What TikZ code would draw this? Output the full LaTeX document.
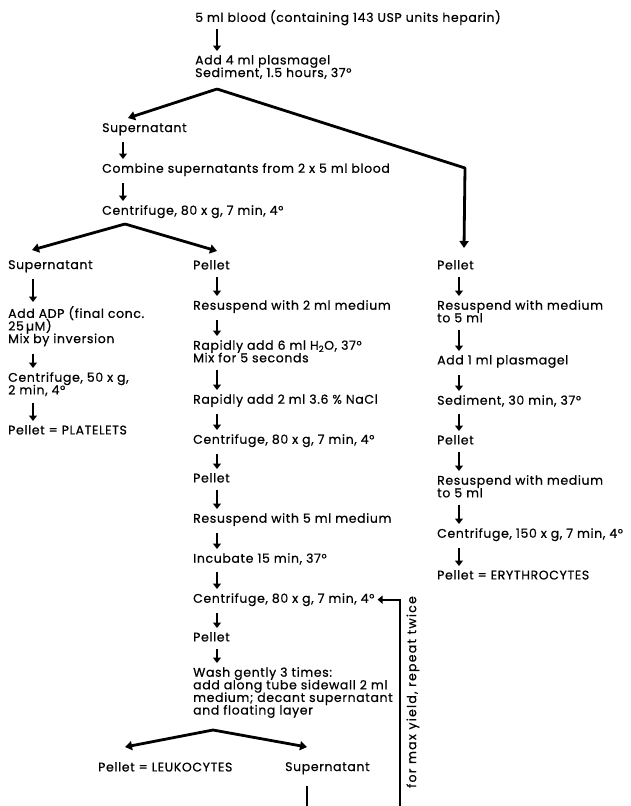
\documentclass[tikz,border=0pt]{standalone}
\usepackage{fontspec}
\setmainfont{Poppins}[FakeBold=0.6, LetterSpace=5]
\usetikzlibrary{arrows.meta, positioning, calc}

\begin{document}
\begin{tikzpicture}[
    x=1pt, y=-1pt,
    txt/.style={anchor=north west, inner sep=0pt, align=left,
                font={\fontsize{12.5}{12.6}\selectfont\lineskiplimit-20pt\relax}},
    flow/.style={line width=2.3pt, -{Triangle[length=5.5pt, width=8pt]},
                 shorten <=7pt, shorten >=4pt},
    branch/.style={line width=2.8pt, -{Triangle[length=7pt, width=9pt]},
                   line join=round},
    backloop/.style={line width=2.2pt, -{Triangle[length=5pt, width=8pt]}}
]
    \useasboundingbox (0,0) rectangle (630,806);

    % Blood and sedimentation
    \node[txt] (blood) at (195,10) {5 ml blood (containing 143 USP units heparin)};
    \node[txt] (plasma) at (195,55) {Add 4 ml plasmagel\\Sediment, 1.5 hours, 37°};
    \draw[flow] ([xshift=22pt, yshift=3pt]blood.south west) -- ([xshift=22pt]plasma.north west);

    \node[txt] (supA) at (102,123) {Supernatant};
    \node[txt] (combine) at (102,163) {Combine supernatants from 2 x 5 ml blood};
    \node[txt] (cent1) at (102,205) {Centrifuge, 80 x g, 7 min, 4°};
    \draw[flow] ([xshift=21pt]supA.south west) -- ([xshift=21pt]combine.north west);
    \draw[flow] ([xshift=21pt]combine.south west) -- ([xshift=21pt]cent1.north west);

    % Left column - platelets
    \node[txt] (supB) at (8,260) {Supernatant};
    \node[txt] (adp) at (8,306) {Add ADP (final conc.\\25\,µM)\\Mix by inversion};
    \node[txt] (cent50) at (8,372) {Centrifuge, 50 x g,\\2 min, 4°};
    \node[txt] (plate) at (8,425) {Pellet = PLATELETS};
    \draw[flow] ([xshift=25pt]supB.south west) -- ([xshift=25pt]adp.north west);
    \draw[flow] ([xshift=25pt]adp.south west) -- ([xshift=25pt]cent50.north west);
    \draw[flow] ([xshift=25pt]cent50.south west) -- ([xshift=25pt]plate.north west);

    % Middle column - leukocytes
    \node[txt] (pelM) at (193,260) {Pellet};
    \node[txt] (resus2) at (193,300) {Resuspend with 2 ml medium};
    \node[txt] (rapid6) at (193,340) {Rapidly add 6 ml H\textsubscript{2}O, 37°\\Mix for 5 seconds};
    \node[txt] (rapid2) at (193,394) {Rapidly add 2 ml 3.6 \% NaCl};
    \node[txt] (cent2) at (193,434) {Centrifuge, 80 x g, 7 min, 4°};
    \node[txt] (pelM2) at (193,473) {Pellet};
    \node[txt] (resus5) at (193,513) {Resuspend with 5 ml medium};
    \node[txt] (incub) at (193,553) {Incubate 15 min, 37°};
    \node[txt] (cent3) at (193,593) {Centrifuge, 80 x g, 7 min, 4°};
    \node[txt] (pelM3) at (193,632) {Pellet};
    \node[txt] (wash) at (193,667) {Wash gently 3 times:\\add along tube sidewall 2 ml\\medium; decant supernatant\\and floating layer};
    \draw[flow] ([xshift=24pt]pelM.south west) -- ([xshift=24pt]resus2.north west);
    \draw[flow] ([xshift=24pt]resus2.south west) -- ([xshift=24pt]rapid6.north west);
    \draw[flow] ([xshift=24pt]rapid6.south west) -- ([xshift=24pt]rapid2.north west);
    \draw[flow] ([xshift=24pt]rapid2.south west) -- ([xshift=24pt]cent2.north west);
    \draw[flow] ([xshift=24pt]cent2.south west) -- ([xshift=24pt]pelM2.north west);
    \draw[flow] ([xshift=24pt]pelM2.south west) -- ([xshift=24pt]resus5.north west);
    \draw[flow] ([xshift=24pt]resus5.south west) -- ([xshift=24pt]incub.north west);
    \draw[flow] ([xshift=24pt]incub.south west) -- ([xshift=24pt]cent3.north west);
    \draw[flow] ([xshift=24pt]cent3.south west) -- ([xshift=24pt]pelM3.north west);
    \draw[flow] ([xshift=24pt]pelM3.south west) -- ([xshift=24pt]wash.north west);

    \node[txt] (leuko) at (98,762) {Pellet = LEUKOCYTES};
    \node[txt] (supC) at (285,762) {Supernatant};

    % Right column - erythrocytes
    \node[txt] (pelR) at (437,260) {Pellet};
    \node[txt] (resusR1) at (437,300) {Resuspend with medium\\to 5 ml};
    \node[txt] (addR) at (437,355) {Add 1 ml plasmagel};
    \node[txt] (sedR) at (437,395) {Sediment, 30 min, 37°};
    \node[txt] (pelR2) at (437,435) {Pellet};
    \node[txt] (resusR2) at (437,475) {Resuspend with medium\\to 5 ml};
    \node[txt] (centR) at (437,528) {Centrifuge, 150 x g, 7 min, 4°};
    \node[txt] (ery) at (437,570) {Pellet = ERYTHROCYTES};
    \draw[flow] ([xshift=22pt]pelR.south west) -- ([xshift=22pt]resusR1.north west);
    \draw[flow] ([xshift=22pt]resusR1.south west) -- ([xshift=22pt]addR.north west);
    \draw[flow] ([xshift=22pt]addR.south west) -- ([xshift=22pt]sedR.north west);
    \draw[flow] ([xshift=22pt]sedR.south west) -- ([xshift=22pt]pelR2.north west);
    \draw[flow] ([xshift=22pt]pelR2.south west) -- ([xshift=22pt]resusR2.north west);
    \draw[flow] ([xshift=22pt]resusR2.south west) -- ([xshift=22pt]centR.north west);
    \draw[flow] ([xshift=22pt]centR.south west) -- ([xshift=22pt]ery.north west);

    % Splits
    \coordinate (split1) at (217,89);
    \coordinate (bend) at (465,168);
    \coordinate (split2) at (125,224);
    \coordinate (split3) at (213,730);
    \draw[branch] (split1) -- ([xshift=26pt, yshift=5pt]supA.north west);
    \draw[branch] (split1) -- (bend) -- ([xshift=27pt, yshift=12pt]pelR.north west);
    \draw[branch] (split2) -- ([xshift=24pt, yshift=10pt]supB.north west);
    \draw[branch] (split2) -- ([xshift=24pt, yshift=9pt]pelM.north west);
    \draw[branch] (split3) -- ([xshift=27pt, yshift=15pt]leuko.north west);
    \draw[branch] (split3) -- ([xshift=22pt, yshift=15pt]supC.north west);

    % Repeat loop
    \coordinate (loopbase) at (400,840);
    \draw[backloop] ([xshift=22pt, yshift=-12pt]supC.south west) |- (loopbase) |- ([xshift=3pt]cent3.east);
    \node[txt, anchor=center, rotate=90] (repeat) at (413,692)
        {\addfontfeature{LetterSpace=10}for max yield, repeat twice};
\end{tikzpicture}
\end{document}
